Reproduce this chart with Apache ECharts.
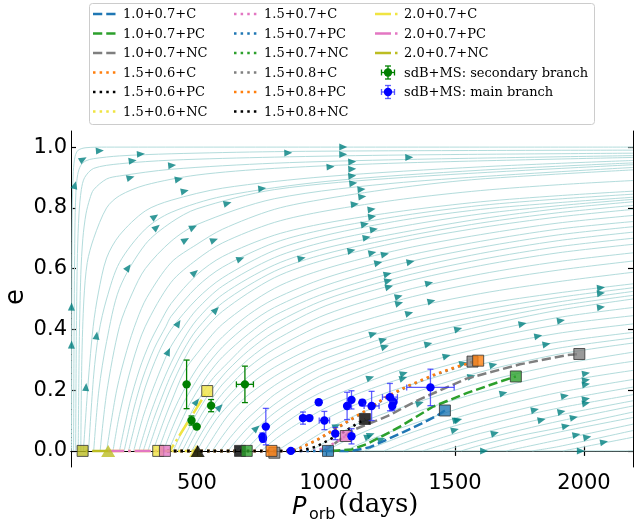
<!DOCTYPE html>
<html>
<head>
<meta charset="utf-8">
<script src="https://cdn.jsdelivr.net/npm/echarts@6.0.0/dist/echarts.min.js"></script>
<style>
html, body { margin: 0; padding: 0; background: #fff; }
#chart { width: 634px; height: 522px; }
</style>
</head>
<body>
<div id="chart"></div>
<script>
// ticks
var xTicks = [500, 1000, 1500, 2000];
var yTicks = [0.0, 0.2, 0.4, 0.6, 0.8, 1.0];

// sdB+MS: main branch (P days, e, errors)
var mainP    = [754, 756, 767, 864, 911, 936, 972, 994, 1036, 1082, 1099, 1099, 1141, 1177, 1248, 1262, 1257, 1405];
var mainE    = [0.047, 0.04, 0.08, 0.0, 0.108, 0.108, 0.16, 0.10, 0.057, 0.148, 0.168, 0.048, 0.159, 0.148, 0.177, 0.161, 0.148, 0.209];
var mainPerr = [0, 0, 0, 0, 0, 0, 0, 20, 0, 0, 0, 0, 0, 29, 29, 0, 0, 92];
var mainEerr = [0.012, 0.01, 0.06, 0, 0.02, 0, 0, 0.03, 0.02, 0.045, 0.03, 0.025, 0.01, 0.048, 0.045, 0, 0.015, 0.06];

// sdB+MS: secondary branch
var secP    = [460, 479, 499, 555, 686];
var secE    = [0.219, 0.10, 0.08, 0.149, 0.219];
var secPerr = [0, 0, 0, 0, 33];
var secEerr = [0.08, 0.015, 0, 0.02, 0.06];

// model tracks
var trk_10_07_C  = [[1000,0],[1100,0],[1170,0.012],[1230,0.035],[1300,0.062],[1370,0.09],[1430,0.116],[1461,0.133]];
var trk_10_07_PC = [[1020,0],[1100,0.005],[1157,0.022],[1248,0.062],[1287,0.08],[1416,0.146],[1545,0.19],[1674,0.228],[1736,0.245]];
var trk_10_07_NC = [[990,0],[1035,0.025],[1106,0.069],[1240,0.115],[1351,0.165],[1545,0.238],[1752,0.285],[1933,0.315],[1982,0.319]];
var trk_15_06_C  = [[385,0],[789,0]];
var trk_15_06_PC = [[385,0],[667,0]];
var trk_15_06_NC = [[350,0],[503,0]];
var trk_15_07_C  = [[385,0],[950,0],[1000,0.01],[1040,0.03],[1077,0.049]];
var trk_15_07_PC = [[385,0],[1008,0]];
var trk_15_07_NC = [[385,0],[693,0]];
var trk_15_08_C  = [[385,0],[860,0],[900,0.01],[964,0.034],[1028,0.067],[1093,0.1],[1158,0.133],[1235,0.176],[1313,0.21],[1416,0.248],[1506,0.275],[1568,0.294]];
var trk_15_08_PC = [[385,0],[860,0],[899,0.009],[964,0.036],[1028,0.069],[1093,0.102],[1158,0.135],[1235,0.179],[1313,0.212],[1416,0.25],[1506,0.277],[1590,0.297]];
var trk_15_08_NC = [[385,0],[900,0],[963,0.014],[1009,0.035],[1061,0.058],[1106,0.082],[1151,0.105]];
var trk_20_07_C  = [[156,0],[395,0],[540,0.197]];
var trk_20_07_PC = [[156,0],[376,0]];
var trk_20_07_NC = [[156,0],[57,0]];

// end squares and triangles (model name per marker)
var squareP     = [57, 350, 376, 540, 667, 693, 800, 789, 1008, 1077, 1151, 1461, 1568, 1590, 1736, 1982];
var squareE     = [0, 0, 0, 0.197, 0, 0, -0.006, 0, 0, 0.049, 0.105, 0.133, 0.294, 0.297, 0.245, 0.319];
var squareModel = ['2.0+0.7+NC', '1.5+0.6+NC', '2.0+0.7+PC', '2.0+0.7+C', '1.5+0.6+PC', '1.5+0.7+NC', '1.5+0.8+C', '1.5+0.6+C',
                   '1.5+0.7+PC', '1.5+0.7+C', '1.5+0.8+NC', '1.0+0.7+C', '1.5+0.8+C', '1.5+0.8+PC', '1.0+0.7+PC', '1.0+0.7+NC'];
var triP     = [156, 497, 503];
var triE     = [0, 0, 0];
var triModel = ['2.0+0.7+NC', '1.5+0.6+NC', '1.5+0.6+PC'];

// streamlines of the (P, e) flow field
var streamlines = [
  [[14,0],[15,0.5],[17,0.8],[21,0.92],[28,0.97],[40,0.99],[70,0.998],[150,1],[2190,1]],
  [[22,0],[24,0.4],[27,0.72],[31,0.85],[38,0.91],[50,0.94],[70,0.955],[100,0.962],[200,0.971],[400,0.978],[800,0.985],[1300,0.988],[2190,0.99]],
  [[30,0],[33,0.4],[37,0.65],[43,0.78],[52,0.86],[65,0.9],[100,0.93],[200,0.945],[400,0.957],[800,0.967],[1300,0.974],[2190,0.98]],
  [[40,0],[44,0.35],[50,0.58],[58,0.7],[70,0.78],[85,0.83],[100,0.86],[150,0.895],[200,0.905],[400,0.927],[800,0.947],[1300,0.959],[2190,0.972]],
  [[50,0],[54,0.3],[62,0.5],[75,0.62],[100,0.7],[150,0.8],[200,0.84],[300,0.875],[500,0.908],[800,0.93],[1300,0.948],[2190,0.966]],
  [[60,0],[79,0.23],[98,0.41],[118,0.52],[150,0.635],[200,0.71],[300,0.79],[400,0.825],[600,0.865],[1000,0.903],[1600,0.935],[2190,0.956]],
  [[80,0],[100,0.25],[120,0.39],[150,0.5],[200,0.62],[300,0.73],[400,0.785],[600,0.838],[1000,0.887],[1600,0.924],[2190,0.948]],
  [[100,0],[120,0.2],[150,0.36],[200,0.535],[300,0.68],[400,0.752],[500,0.797],[800,0.86],[1300,0.9],[2190,0.942]],
  [[125,0],[150,0.19],[200,0.41],[250,0.52],[300,0.6],[400,0.69],[500,0.745],[800,0.83],[1300,0.884],[2190,0.933]],
  [[150,0],[189,0.2],[228,0.33],[267,0.43],[306,0.505],[400,0.62],[500,0.68],[600,0.73],[800,0.795],[1000,0.83],[1300,0.868],[1600,0.895],[2190,0.925]],
  [[175,0],[200,0.12],[250,0.29],[300,0.41],[400,0.555],[500,0.63],[600,0.685],[800,0.752],[1000,0.79],[1300,0.829],[1600,0.857],[1900,0.876],[2190,0.89]],
  [[200,0],[239,0.155],[278,0.27],[317,0.355],[356,0.42],[400,0.485],[500,0.58],[600,0.64],[800,0.71],[1000,0.75],[1300,0.79],[1600,0.82],[1900,0.84],[2190,0.855]],
  [[218,0],[255,0.138],[290,0.24],[335,0.338],[380,0.41],[400,0.443],[500,0.54],[600,0.605],[800,0.685],[1000,0.73],[1300,0.775],[1600,0.808],[1900,0.829],[2190,0.845]],
  [[235,0],[270,0.12],[300,0.21],[350,0.32],[400,0.4],[500,0.5],[600,0.57],[800,0.66],[1000,0.71],[1300,0.76],[1600,0.795],[1900,0.817],[2190,0.835]],
  [[255,0],[292,0.114],[330,0.205],[375,0.3],[400,0.345],[450,0.41],[500,0.466],[600,0.543],[800,0.636],[1000,0.689],[1300,0.74],[1600,0.78],[1900,0.807],[2190,0.828]],
  [[275,0],[314,0.108],[353,0.198],[400,0.29],[450,0.37],[500,0.432],[600,0.515],[800,0.612],[1000,0.668],[1300,0.72],[1600,0.764],[1900,0.797],[2190,0.82]],
  [[292,0],[332,0.104],[375,0.2],[400,0.25],[450,0.335],[500,0.4],[600,0.488],[800,0.591],[1000,0.649],[1300,0.705],[1600,0.75],[1900,0.784],[2190,0.808]],
  [[310,0],[350,0.1],[400,0.21],[450,0.3],[500,0.37],[600,0.46],[800,0.57],[1000,0.63],[1300,0.69],[1600,0.735],[1900,0.77],[2190,0.795]],
  [[330,0],[370,0.095],[400,0.16],[450,0.26],[500,0.32],[600,0.418],[800,0.535],[1000,0.6],[1300,0.665],[1600,0.712],[1900,0.75],[2190,0.775]],
  [[350,0],[389,0.09],[428,0.165],[467,0.226],[506,0.279],[545,0.324],[600,0.376],[700,0.448],[800,0.5],[1000,0.57],[1300,0.64],[1600,0.69],[1900,0.73],[2190,0.755]],
  [[370,0],[409,0.085],[448,0.158],[487,0.216],[526,0.267],[600,0.343],[700,0.417],[800,0.472],[1000,0.545],[1300,0.618],[1600,0.67],[1900,0.711],[2190,0.738]],
  [[390,0],[429,0.078],[468,0.148],[507,0.205],[546,0.255],[600,0.31],[700,0.385],[800,0.445],[1000,0.52],[1300,0.595],[1600,0.65],[1900,0.692],[2190,0.72]],
  [[408,0],[447,0.072],[486,0.138],[525,0.194],[564,0.241],[620,0.29],[700,0.357],[800,0.418],[1000,0.499],[1300,0.575],[1600,0.63],[1900,0.672],[2190,0.7]],
  [[425,0],[464,0.067],[503,0.129],[542,0.182],[581,0.227],[620,0.266],[700,0.33],[800,0.392],[1000,0.478],[1300,0.555],[1600,0.61],[1900,0.652],[2190,0.68]],
  [[443,0],[482,0.064],[521,0.124],[560,0.174],[600,0.22],[700,0.302],[800,0.363],[1000,0.449],[1300,0.527],[1600,0.582],[1900,0.623],[2190,0.652]],
  [[460,0],[499,0.062],[538,0.118],[577,0.165],[616,0.205],[700,0.275],[800,0.335],[1000,0.42],[1300,0.5],[1600,0.555],[1900,0.595],[2190,0.625]],
  [[480,0],[519,0.06],[558,0.112],[597,0.155],[636,0.193],[700,0.245],[800,0.305],[1000,0.388],[1300,0.465],[1600,0.518],[1900,0.557],[2190,0.588]],
  [[500,0],[539,0.057],[578,0.107],[617,0.146],[656,0.181],[694,0.21],[733,0.237],[800,0.275],[900,0.32],[1000,0.355],[1300,0.43],[1600,0.482],[1900,0.52],[2190,0.55]],
  [[530,0],[570,0.054],[610,0.105],[650,0.145],[700,0.185],[800,0.245],[900,0.292],[1000,0.33],[1300,0.41],[1600,0.463],[1900,0.505],[2190,0.537]],
  [[560,0],[600,0.05],[650,0.105],[700,0.15],[800,0.215],[900,0.265],[1000,0.305],[1300,0.39],[1600,0.445],[1900,0.49],[2190,0.525]],
  [[590,0],[630,0.045],[680,0.093],[740,0.14],[800,0.185],[900,0.237],[1000,0.28],[1300,0.368],[1600,0.428],[1900,0.477],[2190,0.512]],
  [[620,0],[659,0.04],[698,0.077],[737,0.109],[776,0.137],[815,0.162],[900,0.21],[1000,0.255],[1300,0.345],[1600,0.41],[1900,0.463],[2190,0.5]],
  [[652,0],[692,0.038],[740,0.08],[800,0.125],[900,0.182],[1000,0.228],[1300,0.322],[1600,0.388],[1900,0.439],[2190,0.472]],
  [[685,0],[725,0.035],[800,0.095],[900,0.155],[1000,0.2],[1300,0.3],[1600,0.365],[1900,0.415],[2190,0.445]],
  [[718,0],[758,0.032],[800,0.065],[900,0.125],[1000,0.171],[1300,0.27],[1600,0.338],[1900,0.387],[2190,0.418]],
  [[750,0],[789,0.029],[828,0.054],[867,0.077],[906,0.097],[1000,0.142],[1138,0.193],[1300,0.24],[1600,0.31],[1900,0.358],[2190,0.39]],
  [[810,0],[850,0.022],[900,0.05],[1000,0.105],[1150,0.165],[1300,0.21],[1600,0.285],[1900,0.338],[2190,0.372]],
  [[875,0],[952,0.044],[1030,0.082],[1107,0.114],[1185,0.142],[1300,0.18],[1600,0.26],[1900,0.318],[2190,0.355]],
  [[940,0],[1000,0.03],[1100,0.08],[1200,0.115],[1300,0.145],[1600,0.225],[1900,0.283],[2190,0.325]],
  [[1000,0],[1077,0.034],[1155,0.065],[1232,0.091],[1387,0.139],[1600,0.193],[1900,0.255],[2190,0.295]],
  [[1075,0],[1150,0.03],[1300,0.078],[1600,0.162],[1900,0.225],[2190,0.265]],
  [[1150,0],[1305,0.052],[1460,0.097],[1615,0.135],[1900,0.192],[2190,0.235]],
  [[1225,0],[1300,0.025],[1450,0.07],[1600,0.105],[1900,0.165],[2190,0.21]],
  [[1300,0],[1455,0.045],[1610,0.083],[1765,0.116],[1920,0.144],[2190,0.185]],
  [[1375,0],[1500,0.033],[1600,0.058],[1900,0.117],[2190,0.165]],
  [[1450,0],[1605,0.037],[1760,0.07],[1915,0.1],[2190,0.148]],
  [[1525,0],[1600,0.019],[1750,0.05],[1900,0.075],[2190,0.128]],
  [[1600,0],[1755,0.033],[1910,0.063],[2190,0.11]],
  [[1700,0],[1900,0.036],[2190,0.088]],
  [[1800,0],[1900,0.014],[2190,0.067]],
  [[1920,0],[2190,0.045]],
  [[1000,0],[2190,0]]
];

// streamline arrow heads: P, e, direction (deg above horizontal on screen)
var arrows = [
  [124,0.988,5],[59,0.96,30],[27,0.875,75],[283,0.977,4],[251,0.955,8],[404,0.94,6],[243,0.9,15],[430,0.894,10],
  [453,0.855,12],[753,0.864,7],[854,0.981,2],[619,0.815,14],[337,0.771,35],[344,0.736,40],[486,0.736,25],[456,0.694,30],
  [567,0.694,20],[234,0.604,55],[492,0.587,40],[669,0.632,20],[906,0.634,12],[574,0.464,45],[428,0.42,58],[14,0.475,88],
  [14,0.35,88],[389,0.327,65],[499,0.162,55],[589,0.144,45],[731,0.075,42],[111,0.38,82],[70,0.21,86],
  [1067,1.0,0],[1067,0.976,2],[1323,0.966,2],[1018,0.935,4],[1102,0.952,3],[1102,0.928,4],[1102,0.905,5],[1106,0.881,6],
  [1138,0.861,6],[1141,0.837,7],[1112,0.812,8],[1177,0.795,8],[1179,0.771,9],[1151,0.746,10],[1186,0.729,10],[1158,0.702,11],
  [1099,0.659,12],[1180,0.652,12],[1229,0.647,12],[1203,0.619,13],[1328,0.622,12],[1239,0.582,14],[1242,0.56,14],[1245,0.54,15],
  [1400,0.552,13],[1282,0.508,15],[1284,0.486,15],[1409,0.493,14],[1323,0.453,15],[2066,0.537,7],[2066,0.519,7],[2066,0.473,8],
  [1762,0.418,12],[1911,0.429,10],[1513,0.401,14],
  [1183,0.385,17],[1229,0.343,17],[1397,0.352,15],[1823,0.378,11],[1855,0.351,11],[1172,0.241,19],[1302,0.255,17],
  [2008,0.255,10],[2008,0.233,10],[2008,0.219,10],[2008,0.171,11],[2008,0.157,11],[1926,0.181,11],[1810,0.135,12],[1913,0.129,12],
  [1961,0.11,12],[1836,0.102,12],[1930,0.082,12],[1971,0.053,12],[2013,0.045,11],[2078,0.029,11],[1988,0,0],[1613,0,0],
  [1513,0.102,15],[1174,0.053,21],[1468,0.312,15],[1532,0.288,14],[1649,0.283,13],[1564,0.245,14],[1300,0.239,17],[1688,0.19,13],
  [1364,0.157,16],[1506,0.102,15],[1500,0.069,15],[1655,0.058,14],[1222,0.365,17],[1041,0.082,24],[1164,0.047,21],[1215,0.038,20]
];

// ---------- styles ----------
var C_BLUE = '#1f77b4', C_ORANGE = '#ff7f0e', C_GREEN = '#2ca02c', C_GRAY = '#7f7f7f',
    C_BLACK = '#000000', C_YELLOW = '#f0e442', C_PINK = '#e377c2', C_OLIVE = '#bcbd22';
var LW = 2.5;
var DASHED = [3.7 * LW, 1.6 * LW], DOTTED = [1 * LW, 1.65 * LW], DASHDOT = [6.4 * LW, 1.6 * LW, 1 * LW, 1.6 * LW];

var tracks = [
  { name: '1.0+0.7+C',  data: trk_10_07_C,  color: C_BLUE,   dash: DASHED },
  { name: '1.0+0.7+PC', data: trk_10_07_PC, color: C_GREEN,  dash: DASHED },
  { name: '1.0+0.7+NC', data: trk_10_07_NC, color: C_GRAY,   dash: DASHED },
  { name: '1.5+0.6+C',  data: trk_15_06_C,  color: C_ORANGE, dash: DOTTED },
  { name: '1.5+0.6+PC', data: trk_15_06_PC, color: C_BLACK,  dash: DOTTED },
  { name: '1.5+0.6+NC', data: trk_15_06_NC, color: C_YELLOW, dash: DOTTED },
  { name: '1.5+0.7+C',  data: trk_15_07_C,  color: C_PINK,   dash: DOTTED },
  { name: '1.5+0.7+PC', data: trk_15_07_PC, color: C_BLUE,   dash: DOTTED },
  { name: '1.5+0.7+NC', data: trk_15_07_NC, color: C_GREEN,  dash: DOTTED },
  { name: '1.5+0.8+C',  data: trk_15_08_C,  color: C_GRAY,   dash: DOTTED },
  { name: '1.5+0.8+PC', data: trk_15_08_PC, color: C_ORANGE, dash: DOTTED },
  { name: '1.5+0.8+NC', data: trk_15_08_NC, color: C_BLACK,  dash: DOTTED },
  { name: '2.0+0.7+C',  data: trk_20_07_C,  color: C_YELLOW, dash: DASHDOT },
  { name: '2.0+0.7+PC', data: trk_20_07_PC, color: C_PINK,   dash: DASHDOT },
  { name: '2.0+0.7+NC', data: trk_20_07_NC, color: C_OLIVE,  dash: DASHDOT }
];
var colorOf = {};
tracks.forEach(function (t) { colorOf[t.name] = t.color; });

var SANS = '"DejaVu Sans", sans-serif';
var SERIF = '"DejaVu Serif", serif';

var chart = echarts.init(document.getElementById('chart'), null, { renderer: 'canvas' });
var series = [];

// streamlines
streamlines.forEach(function (line) {
  series.push({
    type: 'line', data: line, showSymbol: false, symbol: 'none',
    smooth: 0.3, silent: true, z: 1,
    lineStyle: { color: '#b3dcdc', width: 1 }
  });
});
series.push({
  type: 'scatter', silent: true, z: 2, symbol: 'triangle', symbolSize: [7, 8],
  itemStyle: { color: '#008080' },
  data: arrows.map(function (a) { return { value: [a[0], a[1]], symbolRotate: a[2] - 90 }; })
});

// tracks
tracks.forEach(function (t) {
  series.push({
    type: 'line', name: t.name, data: t.data, showSymbol: false, symbol: 'none', silent: true, z: 3,
    lineStyle: { color: t.color, width: LW, type: t.dash, cap: 'butt' }
  });
});

// end markers
series.push({
  type: 'scatter', silent: true, z: 4, symbol: 'rect', symbolSize: 11,
  data: squareP.map(function (p, i) {
    return { value: [p, squareE[i]], itemStyle: { color: colorOf[squareModel[i]], borderColor: '#333', borderWidth: 1 } };
  })
});
series.push({
  type: 'scatter', silent: true, z: 4, symbol: 'triangle', symbolSize: [14, 12],
  data: triP.map(function (p, i) {
    return { value: [p, triE[i]], itemStyle: { color: colorOf[triModel[i]] } };
  })
});

// observed systems with error bars
function errRenderer(fill, bar) {
  return function (params, api) {
    var p = api.value(0), e = api.value(1), dp = api.value(2), de = api.value(3);
    var c = api.coord([p, e]);
    var st = { stroke: bar, lineWidth: 1.3 };
    var kids = [];
    if (de > 0) {
      var t = api.coord([p, e + de]), b = api.coord([p, e - de]);
      kids.push({ type: 'line', shape: { x1: c[0], y1: t[1], x2: c[0], y2: b[1] }, style: st });
      kids.push({ type: 'line', shape: { x1: c[0] - 3, y1: t[1], x2: c[0] + 3, y2: t[1] }, style: st });
      kids.push({ type: 'line', shape: { x1: c[0] - 3, y1: b[1], x2: c[0] + 3, y2: b[1] }, style: st });
    }
    if (dp > 0) {
      var l = api.coord([p - dp, e]), r = api.coord([p + dp, e]);
      kids.push({ type: 'line', shape: { x1: l[0], y1: c[1], x2: r[0], y2: c[1] }, style: st });
      kids.push({ type: 'line', shape: { x1: l[0], y1: c[1] - 3, x2: l[0], y2: c[1] + 3 }, style: st });
      kids.push({ type: 'line', shape: { x1: r[0], y1: c[1] - 3, x2: r[0], y2: c[1] + 3 }, style: st });
    }
    kids.push({ type: 'circle', shape: { cx: c[0], cy: c[1], r: 4.2 }, style: { fill: fill } });
    return { type: 'group', children: kids };
  };
}
series.push({
  type: 'custom', name: 'sdB+MS: secondary branch', silent: true, z: 5, clip: true,
  renderItem: errRenderer('#008000', '#008000'),
  encode: { x: 0, y: 1 },
  data: secP.map(function (p, i) { return [p, secE[i], secPerr[i], secEerr[i]]; })
});
series.push({
  type: 'custom', name: 'sdB+MS: main branch', silent: true, z: 5, clip: true,
  renderItem: errRenderer('#0000ff', 'rgba(40,40,255,0.75)'),
  encode: { x: 0, y: 1 },
  data: mainP.map(function (p, i) { return [p, mainE[i], mainPerr[i], mainEerr[i]]; })
});

// legend drawn as graphic
var graphics = [];
graphics.push({
  type: 'rect', shape: { x: 89.5, y: 3.5, width: 505, height: 121, r: 3 },
  style: { fill: 'rgba(255,255,255,0.85)', stroke: '#cccccc', lineWidth: 1 }, z: 100
});
var colX = [93, 234, 375], colTextX = [123, 264, 404], rowY0 = 14, rowH = 19.5;
tracks.forEach(function (t, i) {
  var col = Math.floor(i / 6), row = i % 6;
  var y = rowY0 + row * rowH;
  graphics.push({
    type: 'line', z: 101, shape: { x1: colX[col], y1: y, x2: colX[col] + 25, y2: y },
    style: { stroke: t.color, lineWidth: LW, lineDash: t.dash }
  });
  graphics.push({
    type: 'text', z: 101, x: colTextX[col], y: y + 1,
    style: { text: t.name, font: '13px ' + SERIF, fill: '#000', verticalAlign: 'middle' }
  });
});
var errLegend = [
  { name: 'sdB+MS: secondary branch', fill: '#008000', bar: '#008000' },
  { name: 'sdB+MS: main branch', fill: '#0000ff', bar: 'rgba(40,40,255,0.75)' }
];
errLegend.forEach(function (it, k) {
  var y = rowY0 + (3 + k) * rowH, cx = 388;
  var st = { stroke: it.bar, lineWidth: 1.3 };
  graphics.push({ type: 'line', z: 101, shape: { x1: cx - 6.5, y1: y, x2: cx + 6.5, y2: y }, style: st });
  graphics.push({ type: 'line', z: 101, shape: { x1: cx - 6.5, y1: y - 3, x2: cx - 6.5, y2: y + 3 }, style: st });
  graphics.push({ type: 'line', z: 101, shape: { x1: cx + 6.5, y1: y - 3, x2: cx + 6.5, y2: y + 3 }, style: st });
  graphics.push({ type: 'line', z: 101, shape: { x1: cx, y1: y - 6.5, x2: cx, y2: y + 6.5 }, style: st });
  graphics.push({ type: 'line', z: 101, shape: { x1: cx - 3, y1: y - 6.5, x2: cx + 3, y2: y - 6.5 }, style: st });
  graphics.push({ type: 'line', z: 101, shape: { x1: cx - 3, y1: y + 6.5, x2: cx + 3, y2: y + 6.5 }, style: st });
  graphics.push({ type: 'circle', z: 102, shape: { cx: cx, cy: y, r: 4.2 }, style: { fill: it.fill } });
  graphics.push({
    type: 'text', z: 101, x: 404, y: y + 1,
    style: { text: it.name, font: '13px ' + SERIF, fill: '#000', verticalAlign: 'middle' }
  });
});

// axis titles
graphics.push({ type: 'text', x: 16, y: 297, rotation: Math.PI / 2,
  style: { text: 'e', font: '26px ' + SANS, fill: '#000', align: 'center', verticalAlign: 'middle' } });
graphics.push({ type: 'text', x: 292, y: 508,
  style: { text: 'P', font: 'italic 24px ' + SANS, fill: '#000', verticalAlign: 'middle' } });
graphics.push({ type: 'text', x: 309, y: 515,
  style: { text: 'orb', font: '16px ' + SANS, fill: '#000', verticalAlign: 'middle' } });
graphics.push({ type: 'text', x: 338, y: 505,
  style: { text: '(days)', font: '26px ' + SERIF, fill: '#000', verticalAlign: 'middle' } });

var axisLine = { show: true, lineStyle: { color: '#000', width: 1 } };
var option = {
  animation: false,
  backgroundColor: '#fff',
  grid: { left: 71, right: 1, top: 131, bottom: 55, containLabel: false },
  xAxis: [
    { type: 'value', min: 12, max: 2190, position: 'bottom', axisLine: axisLine, splitLine: { show: false },
      axisTick: { inside: true, length: 5, lineStyle: { color: '#000', width: 1.2 }, customValues: xTicks },
      axisLabel: { customValues: xTicks, fontFamily: SANS, fontSize: 21, color: '#000', margin: 6,
        formatter: function (v) { return String(v); } } },
    { type: 'value', min: 12, max: 2190, position: 'top', axisLine: axisLine, splitLine: { show: false },
      axisTick: { inside: true, length: 5, lineStyle: { color: '#000', width: 1.2 }, customValues: xTicks },
      axisLabel: { show: false } }
  ],
  yAxis: [
    { type: 'value', min: -0.053, max: 1.053, position: 'left', axisLine: axisLine, splitLine: { show: false },
      axisTick: { inside: true, length: 5, lineStyle: { color: '#000', width: 1.2 }, customValues: yTicks },
      axisLabel: { customValues: yTicks, fontFamily: SANS, fontSize: 21, color: '#000', margin: 4,
        formatter: function (v) { return v.toFixed(1); } } },
    { type: 'value', min: -0.053, max: 1.053, position: 'right', axisLine: axisLine, splitLine: { show: false },
      axisTick: { inside: true, length: 5, lineStyle: { color: '#000', width: 1.2 }, customValues: yTicks },
      axisLabel: { show: false } }
  ],
  series: series,
  graphic: graphics
};
chart.setOption(option);
</script>
</body>
</html>
